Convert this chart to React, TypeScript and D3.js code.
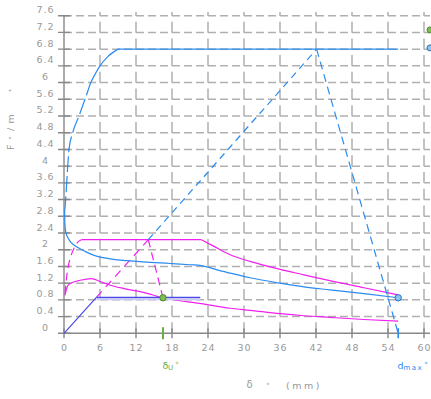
import React from "react";
import * as d3 from "d3";

type Pt = [number, number];

const xTicks = [0, 6, 12, 18, 24, 30, 36, 42, 48, 54, 60];
const yTicks = [0, 0.4, 0.8, 1.2, 1.6, 2, 2.4, 2.8, 3.2, 3.6, 4, 4.4, 4.8, 5.2, 5.6, 6, 6.4, 6.8, 7.2, 7.6];
const yTickLabels = ["0", "0.4", "0.8", "1.2", "1.6", "2", "2.4", "2.8", "3.2", "3.6", "4", "4.4", "4.8", "5.2", "5.6", "6", "6.4", "6.8", "7.2", "7.6"];

// blue capacity curve: dashed rise, solid top, plateau
const blueRiseDashed: Pt[] = [[0.1, 2.9], [0.28, 3.2], [0.45, 3.6], [0.62, 4.0], [0.83, 4.4], [1.45, 4.8], [2.5, 5.2], [3.5, 5.6], [4.45, 6.0]];
const blueRiseSolid: Pt[] = [[4.45, 6.0], [6, 6.4], [7.3, 6.62], [9, 6.8]];
const bluePlateau: Pt[] = [[9, 6.8], [55.7, 6.8]];
// blue decreasing curve
const blueDecay: Pt[] = [[0.1, 2.9], [0.15, 2.6], [0.3, 2.42], [0.72, 2.27], [1.2, 2.17], [2.1, 2.07], [3.5, 1.96], [4.9, 1.87], [6.5, 1.81], [8.2, 1.77], [10.5, 1.74], [13.2, 1.71], [17.7, 1.67], [21, 1.64], [22.9, 1.62], [25, 1.54], [27.7, 1.44], [31, 1.33], [36, 1.2], [40, 1.11], [44.3, 1.04], [50, 0.95], [55.7, 0.85]];
// magenta upper
const magUpperDashed: Pt[] = [[0.17, 0.95], [0.4, 1.3], [0.7, 1.59], [1.2, 1.87], [1.8, 2.07], [2.3, 2.18], [2.9, 2.24]];
const magUpperFlat: Pt[] = [[2.9, 2.24], [22.9, 2.24]];
const magUpperDecay: Pt[] = [[22.9, 2.24], [25, 2.08], [27.7, 1.88], [31, 1.72], [36, 1.53], [40, 1.4], [44.3, 1.26], [50, 1.09], [55.7, 0.92]];
// magenta lower
const magLower: Pt[] = [[0.17, 0.91], [0.4, 1.05], [0.7, 1.15], [1.5, 1.22], [2.7, 1.27], [4.6, 1.31], [6, 1.24], [7.7, 1.15], [10, 1.07], [13.2, 0.98], [16.5, 0.85], [22.9, 0.71], [27.7, 0.6], [31, 0.55], [36, 0.47], [40, 0.42], [44.3, 0.38], [50, 0.33], [55.7, 0.29]];
// elastic branch and bilinear
const elasticSolid: Pt[] = [[0, 0], [5.4, 0.86]];
const elasticMag: Pt[] = [[5.4, 0.86], [14.05, 2.24]];
const elasticBlue: Pt[] = [[14.05, 2.24], [42.1, 6.8]];
const blueDrop: Pt[] = [[42.1, 6.8], [55.7, 0]];
const bilinearFlat: Pt[] = [[5.4, 0.86], [22.7, 0.86]];
const magDrop: Pt[] = [[14.05, 2.24], [16.5, 0.85]];

const deltaU = 16.5;
const dMax = 55.7;
const greenPt: Pt = [16.5, 0.85];
const bluePt: Pt = [55.7, 0.85];
const edgeGreen: Pt = [61, 7.26];
const edgeBlue: Pt = [61, 6.83];

const BLUE = "#2a8cf0";
const MAG = "#f020f0";
const DBLUE = "#4848e8";
const GREEN = "#6aae44";
const GRAY = "#999999";
const GRID = "#b0b0b0";
const AXIS = "#888888";

export default function App() {
  const x = d3.scaleLinear().domain([0, 60]).range([64, 424]);
  const y = d3.scaleLinear().domain([0, 7.6]).range([333.3, 15.7]);

  const lineGen = d3.line<Pt>().x((d) => x(d[0])).y((d) => y(d[1]));
  const smooth = d3.line<Pt>().x((d) => x(d[0])).y((d) => y(d[1])).curve(d3.curveMonotoneX);

  const gridH = yTicks.slice(1).map((t) => `M${x(0)},${y(t)}H430`).join("");
  const gridV = xTicks.slice(1).map((t) => `M${x(t)},${y(0)}V12`).join("");
  const xTickPath = xTicks.map((t) => `M${x(t)},${y(0) - 5}V${y(0) + 5}`).join("");
  const yTickPath = yTicks.map((t) => `M${x(0) - 6},${y(t)}H${x(0) + 6}`).join("");

  const font = "DejaVu Sans, sans-serif";

  return (
    <svg width={431} height={399} style={{ position: "absolute", left: 0, top: 0 }}>
      <rect width={431} height={399} fill="#fff" />
      <path d={gridH} fill="none" stroke={GRID} strokeWidth={1.5} strokeDasharray="8,4" />
      <path d={gridV} fill="none" stroke={GRID} strokeWidth={1.5} strokeDasharray="11,5.7" />
      <path d={`M${x(0)},${y(7.6)}V${y(0)}H430`} fill="none" stroke={AXIS} strokeWidth={1.4} />
      <path d={xTickPath} fill="none" stroke={AXIS} strokeWidth={1.4} />
      <path d={yTickPath} fill="none" stroke={AXIS} strokeWidth={1.4} />

      <g fill={GRAY} fontSize={9.5} letterSpacing={1} textAnchor="middle" fontFamily={font}>
        {xTicks.map((t) => (
          <text key={"xl" + t} x={x(t) + 0.5} y={351}>{t}</text>
        ))}
        {yTicks.map((t, i) => (
          <text key={"yl" + t} x={45.5} y={y(t) - 2.5}>{yTickLabels[i]}</text>
        ))}
      </g>

      <g fill="none" strokeWidth={1.2}>
        <path d={smooth(magUpperDashed)!} stroke={MAG} strokeDasharray="8,5" />
        <path d={lineGen(magUpperFlat)!} stroke={MAG} />
        <path d={smooth(magUpperDecay)!} stroke={MAG} />
        <path d={smooth(magLower)!} stroke={MAG} />
        <path d={lineGen(elasticMag)!} stroke={MAG} strokeDasharray="8,6" />
        <path d={lineGen(magDrop)!} stroke={MAG} strokeDasharray="8,5" />
        <path d={smooth(blueRiseDashed)!} stroke={BLUE} strokeDasharray="16,4" />
        <path d={smooth(blueRiseSolid)!} stroke={BLUE} />
        <path d={lineGen(bluePlateau)!} stroke={BLUE} />
        <path d={smooth(blueDecay)!} stroke={BLUE} />
        <path d={lineGen(elasticBlue)!} stroke={BLUE} strokeDasharray="7,5" />
        <path d={lineGen(blueDrop)!} stroke={BLUE} strokeDasharray="8,5" />
        <path d={lineGen(bilinearFlat)!} stroke="#c9c9f4" strokeWidth={3} transform="translate(0,1.5)" />
        <path d={lineGen(elasticSolid)!} stroke={DBLUE} />
        <path d={lineGen(bilinearFlat)!} stroke={DBLUE} />
      </g>

      <circle cx={x(greenPt[0])} cy={y(greenPt[1])} r={3.2} fill="#7cc050" stroke="#4f8a30" strokeWidth={1} />
      <circle cx={x(bluePt[0])} cy={y(bluePt[1])} r={3.2} fill="#8cc4f4" stroke="#2a6fc0" strokeWidth={1} />
      <circle cx={x(edgeGreen[0])} cy={y(edgeGreen[1])} r={3} fill="#7cc050" stroke="#4f8a30" strokeWidth={1} />
      <circle cx={x(edgeBlue[0])} cy={y(edgeBlue[1])} r={3} fill="#8cc4f4" stroke="#2a6fc0" strokeWidth={1} />

      <path d={`M${x(deltaU)},${y(0) - 6}V${y(0) + 6}`} stroke={GREEN} strokeWidth={2} />
      <path d={`M${x(dMax)},${y(0) - 5}V${y(0) + 5}`} stroke={BLUE} strokeWidth={1.6} />

      <g fill={GREEN} fontFamily={font}>
        <text x={162.5} y={368.5} fontSize={9.5}>δ</text>
        <text x={168} y={370} fontSize={7}>U</text>
        <text x={175.5} y={366} fontSize={6}>*</text>
      </g>
      <g fill={BLUE} fontFamily={font}>
        <text x={397.5} y={368.5} fontSize={9.5}>d</text>
        <text x={403.5} y={370} fontSize={7} letterSpacing={1.5}>max</text>
        <text x={424.5} y={366} fontSize={6}>*</text>
      </g>

      <g fill={GRAY} fontFamily={font}>
        <text x={246.5} y={387.5} fontSize={10}>δ</text>
        <text x={266.5} y={387} fontSize={6}>*</text>
        <text x={286} y={389} fontSize={9.5} letterSpacing={2.5}>(mm)</text>
      </g>
      <g fill={GRAY} fontFamily={font} transform="translate(14,0) rotate(-90)">
        <text x={-150} y={0} fontSize={9.5}>F</text>
        <text x={-139.5} y={-1} fontSize={6}>*</text>
        <text x={-131} y={0} fontSize={9.5}>/</text>
        <text x={-123.5} y={0} fontSize={9.5}>m</text>
        <text x={-92} y={-1} fontSize={6}>*</text>
      </g>
    </svg>
  );
}
